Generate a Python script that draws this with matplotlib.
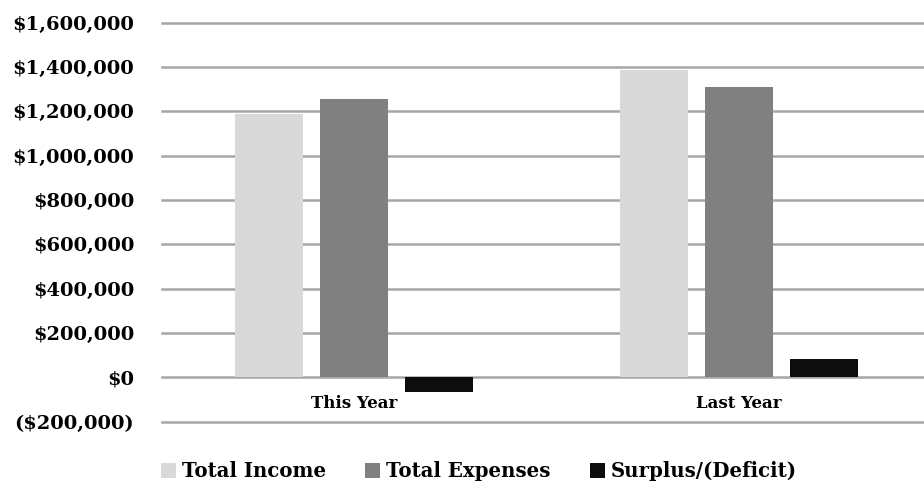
import numpy as np
import matplotlib.pyplot as plt
from matplotlib.ticker import FuncFormatter


years = ['This Year', 'Last Year']
series = ['Total Income', 'Total Expenses', 'Surplus/(Deficit)']
income = [1190000, 1387000]
expenses = [1255000, 1310000]
surplus = [-65000, 82000]
colors = ['#D9D9D9', '#808080', '#0D0D0D']


# money format like excel: negatives in brackets
def money(v, pos):
    if v < 0:
        return f"(${abs(v):,.0f})"
    return f"${v:,.0f}"


plt.rcParams['font.family'] = ['DejaVu Serif']
plt.rcParams['font.weight'] = 'bold'

fig = plt.figure(figsize=(9.24, 4.82), dpi=100)
ax = fig.add_axes([0.1753, 0.1251, 0.8247, 0.8278])

x = np.arange(len(years))
width = 0.177
offsets = [-0.221, 0, 0.221]
for vals, off, col, name in zip([income, expenses, surplus], offsets, colors, series):
    ax.bar(x + off, vals, width, color=col, label=name, zorder=3)

ax.set_xlim(-0.5, 1.482)
ax.set_ylim(-200000, 1600000)
ax.set_yticks(np.arange(-200000, 1600001, 200000))
ax.yaxis.set_major_formatter(FuncFormatter(money))
ax.set_xticks(x)
ax.set_xticklabels(years, fontsize=12, fontweight='bold')
ax.grid(axis='y', color='#A6A6A6', linewidth=1.8, zorder=0)
for gl in ax.get_ygridlines():
    gl.set_clip_on(False)
ax.tick_params(axis='y', length=0, pad=20, labelsize=14)
ax.tick_params(axis='x', length=0, pad=-19)
for s in ax.spines.values():
    s.set_visible(False)

ax.legend(loc='upper center', bbox_to_anchor=(0.416, -0.055), ncol=3, frameon=False,
          fontsize=14.2, handlelength=0.75, handleheight=0.75, handletextpad=0.3,
          columnspacing=2.0)

fig.savefig('out.png', dpi=100)
